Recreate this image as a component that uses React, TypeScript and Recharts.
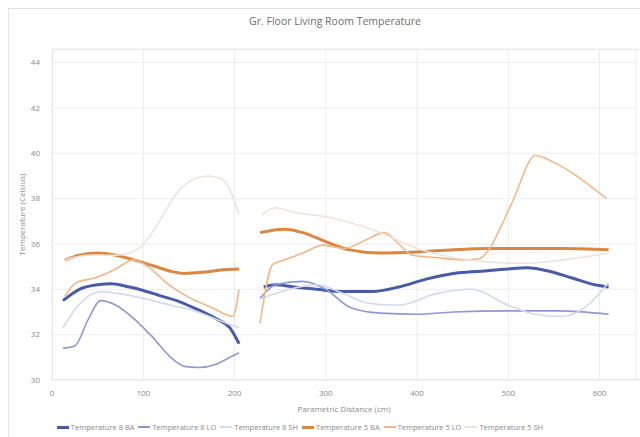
import React from "react";
import { LineChart, Line, XAxis, YAxis, CartesianGrid, Label } from "recharts";

// distance ticks (cm) and temperature ticks (°C)
const xTicks = [0, 100, 200, 300, 400, 500, 600];
const yTicks = [30, 32, 34, 36, 38, 40, 42, 44];

// each run has a gap between the two rooms (null = no reading)
const ba8X = [12, 30, 50, 65, 85, 100, 120, 140, 160, 180, 195, 205, 215, 232, 245, 265, 290, 320, 350, 380, 410, 440, 470, 500, 520, 545, 570, 595, 610];
const ba8T = [33.5, 34.0, 34.2, 34.25, 34.1, 33.95, 33.7, 33.45, 33.1, 32.7, 32.3, 31.6, null, 34.1, 34.2, 34.1, 34.0, 33.9, 33.9, 34.1, 34.45, 34.7, 34.8, 34.9, 34.95, 34.8, 34.5, 34.2, 34.1];

const lo8X = [12, 25, 40, 53, 70, 90, 110, 130, 145, 160, 180, 195, 205, 215, 228, 245, 275, 300, 327, 360, 400, 440, 500, 555, 610];
const lo8T = [31.4, 31.5, 32.7, 33.5, 33.3, 32.7, 31.9, 31.0, 30.6, 30.55, 30.7, 31.0, 31.2, null, 33.6, 34.2, 34.35, 34.0, 33.2, 32.95, 32.9, 33.0, 33.05, 33.05, 32.9];

const sh8X = [12, 25, 40, 55, 75, 100, 130, 160, 185, 205, 215, 230, 260, 290, 320, 345, 380, 420, 460, 500, 530, 560, 590, 610];
const sh8T = [32.3, 33.1, 33.7, 33.9, 33.8, 33.6, 33.3, 33.0, 32.6, 32.3, null, 33.6, 34.0, 34.2, 33.8, 33.4, 33.3, 33.8, 34.0, 33.3, 32.9, 32.8, 33.4, 34.3];

const ba5X = [14, 30, 50, 70, 90, 110, 130, 145, 165, 185, 205, 215, 228, 255, 275, 300, 325, 360, 400, 440, 480, 520, 560, 610];
const ba5T = [35.3, 35.5, 35.6, 35.5, 35.3, 35.05, 34.8, 34.7, 34.75, 34.85, 34.9, null, 36.5, 36.65, 36.5, 36.1, 35.75, 35.6, 35.65, 35.75, 35.8, 35.8, 35.8, 35.75];

const lo5X = [14, 27, 47, 70, 89, 105, 125, 152, 175, 190, 198, 205, 215, 228, 242, 255, 275, 297, 320, 345, 364, 380, 395, 420, 450, 468, 478, 490, 505, 530, 550, 575, 595, 608];
const lo5T = [33.7, 34.3, 34.5, 34.9, 35.3, 35.0, 34.3, 33.6, 33.2, 32.9, 32.8, 34.0, null, 32.5, 35.1, 35.3, 35.6, 35.95, 35.8, 36.2, 36.5, 36.0, 35.5, 35.4, 35.3, 35.35, 35.7, 36.6, 37.9, 39.9, 39.6, 39.0, 38.4, 38.0];

const sh5X = [14, 40, 70, 95, 110, 125, 140, 155, 170, 185, 195, 205, 215, 230, 245, 265, 300, 330, 360, 400, 440, 480, 520, 560, 610];
const sh5T = [35.3, 35.5, 35.5, 35.8, 36.5, 37.5, 38.4, 38.85, 39.0, 38.9, 38.4, 37.3, null, 37.3, 37.6, 37.4, 37.2, 36.9, 36.5, 35.8, 35.4, 35.2, 35.15, 35.3, 35.6];

const toRows = (xs: number[], ts: (number | null)[]) => xs.map((x, i) => ({ x, t: ts[i] }));

const series = [
  { name: "Temperature 8 BA", rows: toRows(ba8X, ba8T), color: "#4a5ba6", width: 3 },
  { name: "Temperature 8 LO", rows: toRows(lo8X, lo8T), color: "#8d99d6", width: 1.6 },
  { name: "Temperature 8 SH", rows: toRows(sh8X, sh8T), color: "#d3d9ee", width: 1.6 },
  { name: "Temperature 5 BA", rows: toRows(ba5X, ba5T), color: "#dc8741", width: 3 },
  { name: "Temperature 5 LO", rows: toRows(lo5X, lo5T), color: "#f2b888", width: 1.6 },
  { name: "Temperature 5 SH", rows: toRows(sh5X, sh5T), color: "#ebe4df", width: 1.6 },
];

const font = "'Open Sans', 'Liberation Sans', sans-serif";
const grey = "#8a8a8a";

export default function App() {
  return (
    <div style={{ position: "absolute", left: 0, top: 0, width: 640, height: 437, background: "#fff", fontFamily: font }}>
      {/* chart area and plot area outlines */}
      <div style={{ position: "absolute", left: 8, top: 8, width: 640, height: 440, borderLeft: "1px solid #e2e2e2", borderTop: "1px solid #e2e2e2" }} />
      <div style={{ position: "absolute", left: 52, top: 49, width: 590, height: 331, border: "1px solid #e4e4e4", boxSizing: "border-box" }} />
      <div style={{ position: "absolute", left: 0, top: 14, width: 670, textAlign: "center", fontSize: 10.5, color: "#6e6e6e" }}>
        Gr. Floor Living Room Temperature
      </div>
      <div style={{ position: "absolute", left: 0, top: 0 }}>
        <LineChart width={640} height={437} margin={{ top: 49, right: 4, bottom: 17, left: 0 }}>
          <CartesianGrid stroke="#ececec" vertical horizontal />
          <XAxis
            type="number"
            dataKey="x"
            domain={[0, 640]}
            ticks={xTicks}
            allowDuplicatedCategory={false}
            height={40}
            tickSize={0}
            tickMargin={10}
            axisLine={false}
            tick={{ fontSize: 8, fill: grey, fontFamily: font }}
          >
            <Label value="Parametric Distance (cm)" position="insideBottom" offset={8} style={{ fontSize: 8, fill: grey, fontFamily: font }} />
          </XAxis>
          <YAxis
            type="number"
            domain={[30, 44.6]}
            ticks={yTicks}
            width={52}
            tickSize={0}
            tickMargin={12}
            axisLine={false}
            tick={{ fontSize: 8, fill: grey, fontFamily: font }}
          >
            <Label value="Temperature (Celsius)" angle={-90} position="insideLeft" offset={22} style={{ fontSize: 8, fill: grey, fontFamily: font, textAnchor: "middle" }} />
          </YAxis>
          {series.map((s) => (
            <Line
              key={s.name}
              data={s.rows}
              dataKey="t"
              name={s.name}
              type="monotone"
              stroke={s.color}
              strokeWidth={s.width}
              dot={false}
              connectNulls={false}
              isAnimationActive={false}
            />
          ))}
        </LineChart>
      </div>
      <div style={{ position: "absolute", left: 0, top: 422, width: 604, display: "flex", justifyContent: "center", fontSize: 7.5, color: grey, whiteSpace: "nowrap" }}>
        {series.map((s) => (
          <span key={s.name} style={{ display: "inline-flex", alignItems: "center", marginRight: 4 }}>
            <span style={{ display: "inline-block", width: 12, height: s.width, background: s.color, marginRight: 2 }} />
            {s.name}
          </span>
        ))}
      </div>
    </div>
  );
}
